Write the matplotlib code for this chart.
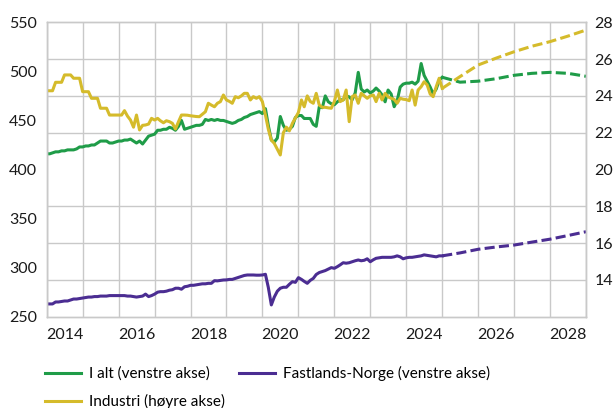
import matplotlib
matplotlib.use("Agg")
import matplotlib.pyplot as plt
import matplotlib.dates as mdates
import numpy as np
import pandas as pd

# monthly history, Jan 2014 - Jan 2025
I_ALT = [416, 416, 417, 418, 418, 419, 419, 420, 420, 420, 421, 423,
         423, 424, 424, 425, 425, 427, 429, 429, 429, 427, 427, 428,
         429, 429, 430, 430, 431, 429, 427, 429, 426, 430, 434, 435,
         436, 440, 440, 441, 441, 443, 442, 440, 444, 450, 441, 442,
         443, 444, 445, 445, 446, 451, 450, 451, 450, 451, 450, 450,
         449, 448, 447, 448, 450, 451, 453, 454, 456, 457, 458, 459,
         457, 462, 445, 430, 428, 432, 454, 445, 440, 441, 444, 453,
         455, 455, 452, 452, 452, 446, 444, 464, 463, 475, 469, 467,
         466, 469, 471, 471, 475, 474, 471, 478, 499, 482, 479, 481,
         478, 480, 483, 480, 476, 469, 481, 477, 464, 470, 484, 487,
         488, 488, 489, 487, 490, 508, 496, 490, 484, 477, 482, 491,
         494]

FASTLAND = [263, 263, 263, 265, 265, 265.5, 266, 266, 267, 268, 268, 268.5,
            269, 269.5, 270, 270, 270.5, 270.5, 271, 271, 271, 271.5, 271.5, 271.5,
            271.5, 271.5, 271.5, 271, 271, 270.5, 270, 270.5, 271, 273, 270.5, 271.5,
            273, 275, 275.5, 275.5, 276, 277, 277.5, 279, 279, 278, 280.5, 281,
            282, 282, 282.5, 283, 283.5, 283.5, 284, 284, 286.7, 286.5, 287, 287.4,
            287.5, 288, 288, 289, 290, 291, 292, 292.5, 292.5, 292.5, 292.3, 292.3,
            292.5, 293.2, 280, 262, 270, 276, 279, 280, 280, 283, 285.7, 285,
            289.8, 288, 286, 284, 287, 289, 293, 295, 296, 297, 298.5, 300,
            299.3, 301, 302.8, 305, 304.5, 305, 306, 307, 307.8, 307, 307.5, 309,
            306, 308, 309.5, 310, 310.5, 310.5, 310.5, 310.5, 311, 312, 311, 309,
            310, 310.5, 310.5, 311, 311.5, 312, 313, 312.5, 312, 311.5, 311, 312,
            312]

INDUSTRI = [24.28, 24.28, 24.28, 24.74, 24.74, 24.74, 25.14, 25.14, 25.14, 24.96, 24.96, 24.96,
            24.23, 24.23, 24.23, 23.87, 23.87, 23.87, 23.33, 23.33, 23.33, 22.96, 22.96, 22.96,
            22.96, 22.96, 23.2, 22.9, 22.69, 22.3, 22.96, 22.15, 22.4, 22.42, 22.47, 22.78,
            22.69, 22.78, 22.65, 22.54, 22.65, 22.6, 22.51, 22.2, 22.6, 22.96, 22.96, 22.95,
            22.92, 22.9, 22.88, 22.87, 23.0, 23.14, 23.6, 23.5, 23.41, 23.6, 23.69, 24.05,
            23.78, 23.7, 23.6, 23.96, 23.9, 24.0, 24.14, 24.14, 23.78, 23.96, 23.87, 23.96,
            23.69, 22.96, 22.2, 21.6, 21.42, 21.1, 20.79, 22.0, 22.3, 22.1, 22.51, 22.8,
            23.1, 23.78, 23.41, 24.0, 23.7, 23.6, 24.14, 23.5, 23.38, 23.38, 23.35, 23.33,
            23.69, 24.32, 23.69, 23.78, 24.32, 22.6, 23.96, 24.05, 23.6, 24.14, 24.0, 23.87,
            24.0, 24.05, 23.69, 24.14, 23.78, 24.14, 23.95, 23.87, 23.81, 23.6, 23.87, 23.82,
            23.8, 23.74, 24.32, 23.5, 24.32, 24.5, 24.77, 24.6, 24.1, 23.96, 24.5, 24.96,
            24.41]

# projections, half-yearly from Jan 2025
FC_DATES = ["2025-01-01", "2025-07-01", "2026-01-01", "2026-07-01", "2027-01-01",
            "2027-07-01", "2028-01-01", "2028-07-01", "2029-01-01"]
I_ALT_FC = [494, 489, 490, 492.5, 496, 498, 499, 498, 495]
FASTLAND_FC = [312, 315, 318.7, 321, 323, 326, 329, 332.7, 336.6]
INDUSTRI_FC = [24.41, 25.05, 25.68, 26.05, 26.4, 26.7, 26.95, 27.25, 27.58]

GREEN = "#1f9c48"
PURPLE = "#4b2d92"
YELLOW = "#d5bb2b"
GRID = "#c9c9c9"
DASH = (0, (3.3, 1.4))

plt.rcParams["font.family"] = ["Lato", "DejaVu Sans"]
plt.rcParams["font.size"] = 11.5

dates = pd.date_range("2014-01-01", periods=len(I_ALT), freq="MS")
fc_dates = pd.to_datetime(FC_DATES)

fig = plt.figure(figsize=(6.13, 4.08), dpi=100)
ax = fig.add_axes([0.0762, 0.2238, 0.8798, 0.7215])
ax2 = ax.twinx()

lw = 2.2
ax.plot(dates, I_ALT, color=GREEN, lw=lw, label="I alt (venstre akse)")
ax.plot(fc_dates, I_ALT_FC, color=GREEN, lw=lw, ls=DASH)
ax.plot(dates, FASTLAND, color=PURPLE, lw=lw, label="Fastlands-Norge (venstre akse)")
ax.plot(fc_dates, FASTLAND_FC, color=PURPLE, lw=lw, ls=DASH)
ax2.plot(dates, INDUSTRI, color=YELLOW, lw=lw, label="Industri (høyre akse)")
ax2.plot(fc_dates, INDUSTRI_FC, color=YELLOW, lw=lw, ls=DASH)

ax.set_xlim(pd.Timestamp("2014-01-01"), pd.Timestamp("2029-01-01"))
ax.set_ylim(250, 550)
ax.set_yticks(range(250, 551, 50))
ax2.set_ylim(12, 28)
ax2.set_yticks(range(14, 29, 2))

# horizontal grid follows the right axis ticks
ax.set_yticks(np.linspace(250, 550, 9), minor=True)
ax.grid(axis="y", which="minor", color=GRID, lw=1)
ax.xaxis.set_major_locator(mdates.YearLocator(1))
ax.xaxis.set_major_formatter(plt.NullFormatter())
ax.xaxis.set_minor_locator(mdates.YearLocator(2, month=7, day=1))
ax.xaxis.set_minor_formatter(mdates.DateFormatter("%Y"))
ax.grid(axis="x", which="major", color=GRID, lw=1)
ax.set_axisbelow(True)

ax.tick_params(axis="both", which="both", length=0, labelsize=11.5, colors="#1a1a1a")
ax.tick_params(axis="y", pad=7)
ax.tick_params(axis="x", which="minor", pad=8)
ax2.tick_params(axis="y", length=0, pad=6, labelsize=11.5, colors="#1a1a1a")
for a in (ax, ax2):
    for s in a.spines.values():
        s.set_color(GRID)
        s.set_linewidth(1)

h1, l1 = ax.get_legend_handles_labels()
h2, l2 = ax2.get_legend_handles_labels()
fig.legend([h1[0], h2[0], h1[1]], [l1[0], l2[0], l1[1]], ncol=2,
           loc="upper left", bbox_to_anchor=(0.073, 0.103), frameon=False,
           fontsize=11, handlelength=2.4, handletextpad=0.5,
           columnspacing=0.9, labelspacing=0.85, borderpad=0, borderaxespad=0)

fig.savefig("out.png", dpi=100)
